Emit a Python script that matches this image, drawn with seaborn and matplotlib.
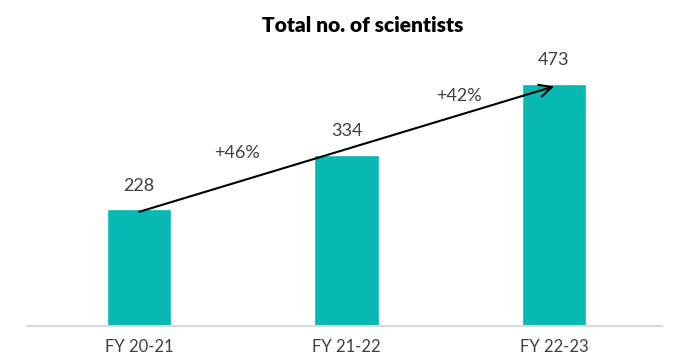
import matplotlib
matplotlib.use("Agg")
import matplotlib.pyplot as plt
import seaborn as sns
import pandas as pd

# Data
years = ["FY 20-21", "FY 21-22", "FY 22-23"]
scientists = [228, 334, 473]
title = "Total no. of scientists"

bar_color = "#08B8B3"
text_color = "#404040"

sns.set_theme(style="white")
plt.rcParams["font.family"] = ["Lato", "DejaVu Sans"]

df = pd.DataFrame({"year": years, "count": scientists})

fig = plt.figure(figsize=(6.76, 3.59), dpi=100)
ax = fig.add_axes([0.040, 0.0919, 0.939, 0.7986])

sns.barplot(data=df, x="year", y="count", color=bar_color, width=0.31,
            saturation=1, ax=ax)

ax.set_ylim(0, 560)
ax.set_xlim(-0.54, 2.52)
ax.set_xlabel("")
ax.set_ylabel("")
ax.set_yticks([])
for side in ["top", "right", "left"]:
    ax.spines[side].set_visible(False)
ax.spines["bottom"].set_color("#D9D9D9")
ax.spines["bottom"].set_linewidth(1.5)
ax.tick_params(axis="x", length=0, pad=9, labelsize=12, labelcolor=text_color)

# Value labels above bars
for i, v in enumerate(scientists):
    ax.annotate(f"{v}", (i, v), xytext=(0, 17), textcoords="offset points",
                ha="center", va="center", fontsize=13, color=text_color)

# Growth arrow from first to last bar
ax.annotate("", xy=(len(scientists) - 1, scientists[-1] - 5),
            xytext=(0, scientists[0] - 5),
            arrowprops=dict(arrowstyle="->", color="black", lw=1.5,
                            mutation_scale=22, shrinkA=0, shrinkB=0))

# Year-over-year growth labels
growth_pos = [(0.47, 338), (1.54, 449)]
for k in range(len(scientists) - 1):
    pct = round((scientists[k + 1] / scientists[k] - 1) * 100)
    x, y = growth_pos[k]
    ax.text(x, y, f"+{pct}%", ha="center", va="center", fontsize=13,
            color=text_color)

fig.text(0.537, 1 - 25 / 359, title, ha="center", va="center",
         fontsize=15, fontweight="heavy", color="black")

fig.savefig("out.png", dpi=100)
